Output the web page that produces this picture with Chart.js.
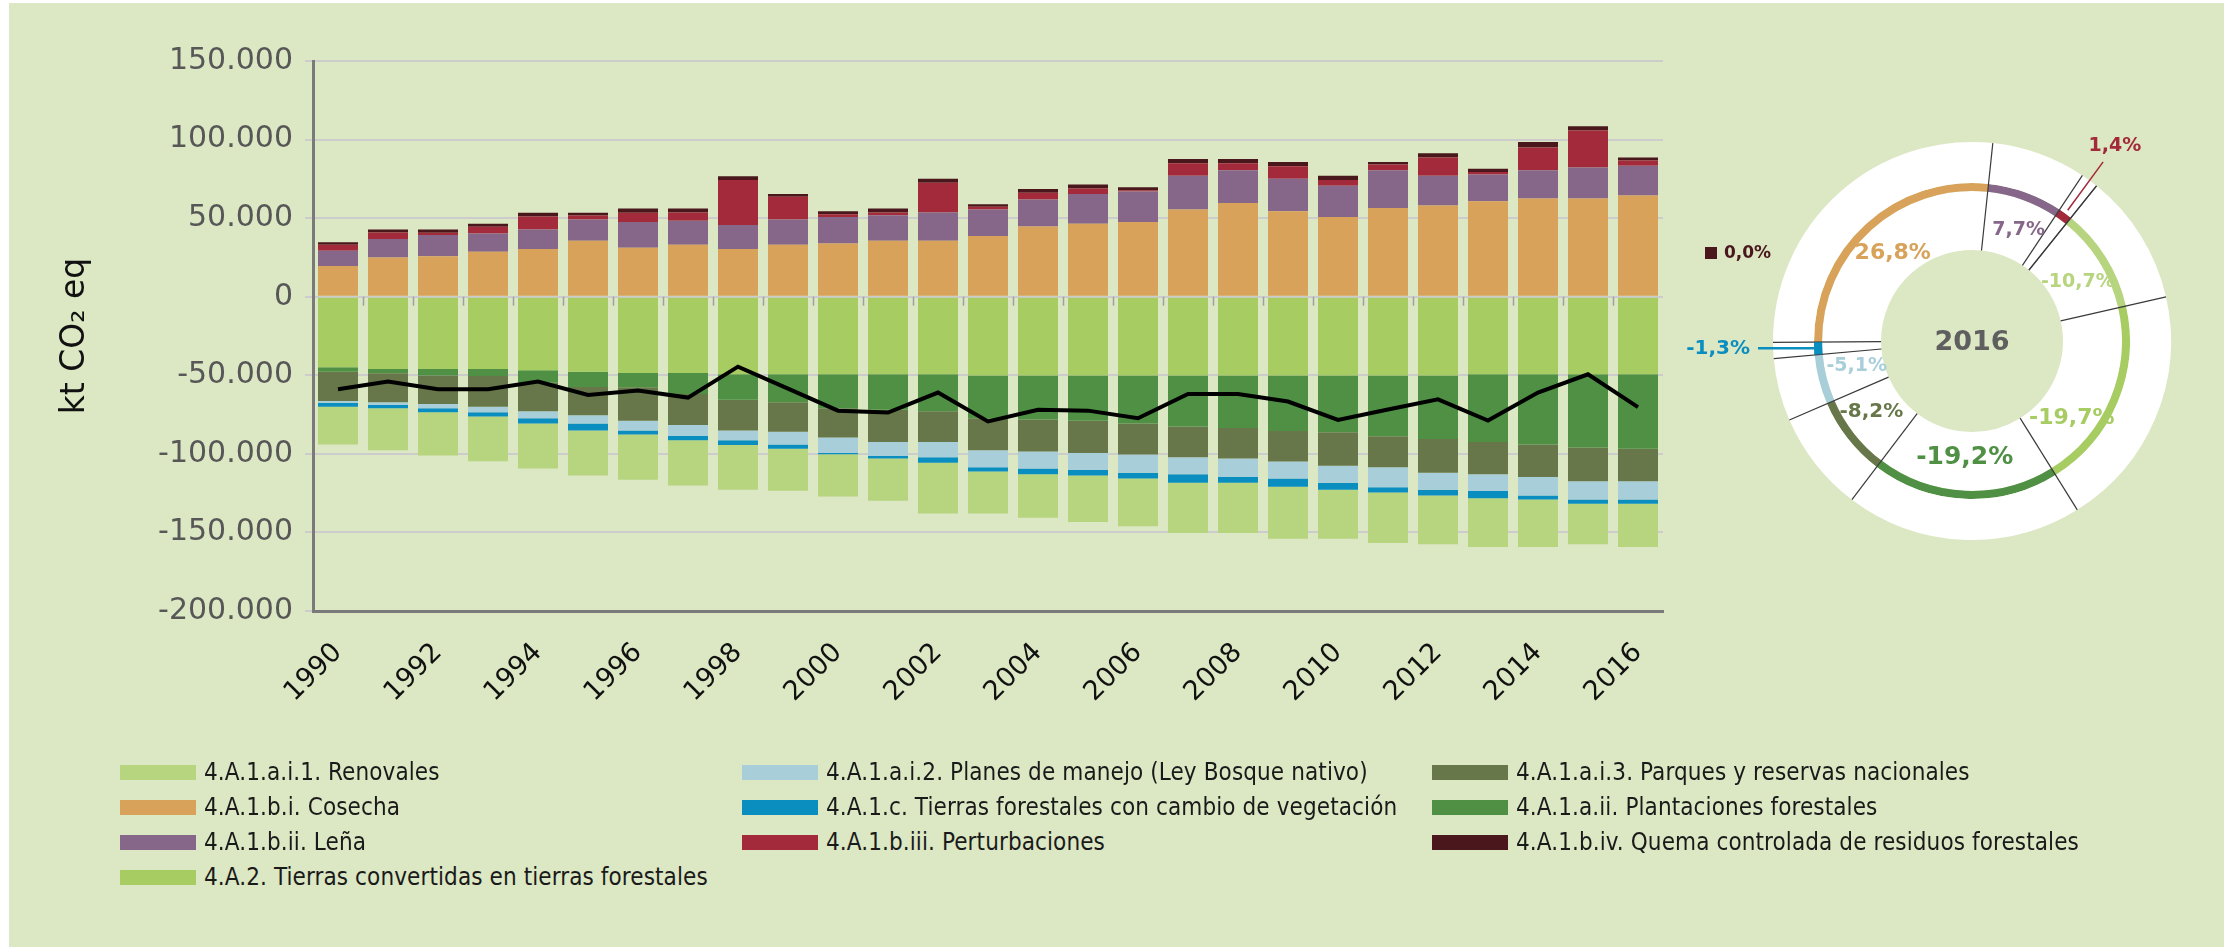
<!DOCTYPE html>
<html>
<head>
<meta charset="utf-8">
<script src="https://cdn.jsdelivr.net/npm/chart.js@4.4.0/dist/chart.umd.min.js"></script>
<style>
  html, body { margin: 0; padding: 0; background: #ffffff; width: 2224px; height: 947px; overflow: hidden; }
  #page { position: absolute; left: 9px; top: 3px; width: 2215px; height: 944px; background: #dce7c3; }
  #barChart { position: absolute; left: 0; top: 0; }
  #donutChart { position: absolute; left: 1652px; top: 111px; }
  .lg { position: absolute; height: 30px; display: flex; align-items: center;
        font-family: "Liberation Sans Narrow", "DejaVu Sans Condensed", "Arial Narrow", sans-serif;
        font-size: 24px; letter-spacing: 0.1px; color: #1a1a1a; white-space: nowrap; }
  .lg span.sw { display: inline-block; width: 76px; height: 15px; margin-right: 8px; }
</style>
</head>
<body>
<div id="page"></div>
<canvas id="barChart" width="1700" height="760"></canvas>
<canvas id="donutChart" width="600" height="460"></canvas>
<div id="legend"></div>
<script>
// Years on the x axis
const years = ['1990','1991','1992','1993','1994','1995','1996','1997','1998','1999',
               '2000','2001','2002','2003','2004','2005','2006','2007','2008','2009',
               '2010','2011','2012','2013','2014','2015','2016'];

// Emissions (kt CO2 eq), positive stack
const cosecha = [19500,25000,25800,28600,30300,35600,31100,33100,30300,33100,
                 33900,35600,35600,38600,44700,46400,47500,55500,59700,54400,
                 50800,56400,58100,60800,62500,62500,64400];
const lena = [9700,11700,13400,11700,12500,13600,16400,15200,15300,16100,
              16900,16300,18000,16900,17200,18900,19400,21400,20800,20600,
              19800,24100,18800,17000,18000,19700,18900];
const perturbaciones = [3800,4200,1500,4200,8300,2500,5900,5300,28600,14400,
                        1700,1700,18900,1700,4200,3600,900,8100,4500,8100,
                        3600,3600,11700,1600,14400,23500,3400];
const quema = [1700,1900,2100,1900,2300,1700,2700,2500,2500,1700,
               1900,2500,2500,1700,2500,2500,1900,2700,2700,2700,
               2700,1700,2700,2000,3600,2800,1900];

// Removals (kt CO2 eq), negative stack
const tierrasConvertidas = [-44900,-46000,-46000,-46000,-46800,-47700,-48500,-48500,-49400,-49400,
                            -49400,-49400,-49400,-50200,-50200,-50200,-50200,-50200,-50200,-50200,
                            -50200,-50200,-50200,-49400,-49400,-49400,-49400];
const plantaciones = [-2800,-2700,-4200,-4400,-7900,-9700,-9100,-13400,-16100,-17800,
                      -21600,-22600,-23500,-27100,-28000,-28800,-30500,-32400,-33300,-35200,
                      -36000,-38600,-40300,-43000,-44700,-46600,-47400];
const parques = [-18600,-18500,-18000,-19700,-18200,-18000,-21400,-19700,-19700,-18800,
                 -18600,-20400,-19500,-20400,-20300,-20400,-19700,-19500,-19500,-19500,
                 -21400,-19700,-21600,-20500,-20700,-21400,-20600];
const planesManejo = [-1100,-1700,-2800,-3400,-4400,-5300,-6200,-7000,-6100,-8100,
                      -9800,-8900,-9700,-10800,-10800,-10800,-11700,-10800,-11800,-10800,
                      -10800,-12700,-10800,-10800,-11700,-11600,-11600];
const cambioVegetacion = [-2700,-2100,-2500,-2800,-3400,-4500,-2500,-2700,-3000,-2700,
                          -800,-1700,-3600,-2700,-3600,-3600,-3600,-5500,-3600,-5300,
                          -4500,-3400,-3600,-4500,-2500,-2800,-2800];
const renovales = [-24000,-26700,-27600,-28400,-28600,-28600,-28800,-28800,-28600,-26700,
                   -26900,-26900,-32200,-26700,-27800,-29600,-30300,-32000,-32000,-33000,
                   -31100,-32200,-31100,-31100,-30300,-25800,-27500];

// Net balance (black line)
const balance = [-58900,-54000,-58900,-58900,-54000,-62500,-59700,-64200,-44500,-58500,
                 -72500,-73700,-61000,-79400,-72000,-72500,-77300,-61900,-61900,-66700,
                 -78400,-71800,-65300,-78800,-61000,-49400,-70300];

// 2016 shares shown in the ring (clockwise from the top)
const donutNames = ['4.A.1.b.ii. Leña','4.A.1.b.iii. Perturbaciones','4.A.1.b.iv. Quema controlada de residuos forestales',
                    '4.A.1.a.i.1. Renovales','4.A.2. Tierras convertidas en tierras forestales','4.A.1.a.ii. Plantaciones forestales',
                    '4.A.1.a.i.3. Parques y reservas nacionales','4.A.1.a.i.2. Planes de manejo (Ley Bosque nativo)',
                    '4.A.1.c. Tierras forestales con cambio de vegetación','4.A.1.b.i. Cosecha'];
const donutPct = [7.7, 1.4, 0.0, -10.7, -19.7, -19.2, -8.2, -5.1, -1.3, 26.8];

const colors = {
    '4.A.1.a.i.1. Renovales': '#b7d47f',
    '4.A.1.b.i. Cosecha': '#d9a25a',
    '4.A.1.b.ii. Leña': '#86678a',
    '4.A.2. Tierras convertidas en tierras forestales': '#a6cc62',
    '4.A.1.a.i.2. Planes de manejo (Ley Bosque nativo)': '#a8cfd9',
    '4.A.1.c. Tierras forestales con cambio de vegetación': '#0a8ec0',
    '4.A.1.b.iii. Perturbaciones': '#a22a3a',
    '4.A.1.a.i.3. Parques y reservas nacionales': '#67774a',
    '4.A.1.a.ii. Plantaciones forestales': '#4f9045',
    '4.A.1.b.iv. Quema controlada de residuos forestales': '#4a181c'
};

function barSet(label, data) {
    return { type: 'bar', label: label, data: data, backgroundColor: colors[label],
             borderWidth: 0, order: 1, categoryPercentage: 0.8, barPercentage: 1.0 };
}

// Small category ticks drawn on the zero line
const zeroTicks = {
    id: 'zeroTicks',
    beforeDatasetsDraw(chart) {
        const { ctx, scales: { x, y } } = chart;
        const y0 = y.getPixelForValue(0);
        const half = (x.getPixelForValue(1) - x.getPixelForValue(0)) / 2;
        ctx.save();
        ctx.strokeStyle = '#a0a0a0';
        ctx.lineWidth = 1.5;
        for (let i = 1; i < years.length; i++) {
            const px = Math.round(x.getPixelForValue(i) - half) + 0.5;
            ctx.beginPath();
            ctx.moveTo(px, y0);
            ctx.lineTo(px, y0 + 9);
            ctx.stroke();
        }
        ctx.restore();
    }
};

function createBarChart() {
    const ctx = document.getElementById('barChart').getContext('2d');
    const padLeft = 56;
    new Chart(ctx, {
        data: {
            labels: years,
            datasets: [
                barSet('4.A.1.b.i. Cosecha', cosecha),
                barSet('4.A.1.b.ii. Leña', lena),
                barSet('4.A.1.b.iii. Perturbaciones', perturbaciones),
                barSet('4.A.1.b.iv. Quema controlada de residuos forestales', quema),
                barSet('4.A.2. Tierras convertidas en tierras forestales', tierrasConvertidas),
                barSet('4.A.1.a.ii. Plantaciones forestales', plantaciones),
                barSet('4.A.1.a.i.3. Parques y reservas nacionales', parques),
                barSet('4.A.1.a.i.2. Planes de manejo (Ley Bosque nativo)', planesManejo),
                barSet('4.A.1.c. Tierras forestales con cambio de vegetación', cambioVegetacion),
                barSet('4.A.1.a.i.1. Renovales', renovales),
                { type: 'line', label: 'Balance', data: balance, borderColor: '#000000',
                  borderWidth: 4, pointRadius: 0, fill: false, tension: 0, order: 0 }
            ]
        },
        options: {
            responsive: false,
            animation: false,
            layout: { padding: { left: padLeft, top: 61, right: 37, bottom: 0 } },
            plugins: { legend: { display: false }, tooltip: { enabled: false } },
            scales: {
                x: {
                    stacked: true,
                    grid: { display: false },
                    border: { display: true, color: '#7a7a7a', width: 3 },
                    ticks: {
                        autoSkip: false, minRotation: 45, maxRotation: 45, padding: 18,
                        color: '#111111',
                        font: { family: 'DejaVu Sans', size: 27 },
                        callback: function(value, index) {
                            return index % 2 === 0 ? years[index] : '';
                        }
                    },
                    afterFit: function(scale) { scale.height = 149; }
                },
                y: {
                    stacked: true,
                    min: -200000, max: 150000,
                    grid: { color: '#cccccc', lineWidth: 2, tickLength: 8 },
                    border: { display: true, color: '#7a7a7a', width: 3 },
                    ticks: {
                        stepSize: 50000, padding: 12, color: '#575757',
                        font: { family: 'DejaVu Sans', size: 30 },
                        callback: function(value) { return value.toLocaleString('de-DE'); }
                    },
                    title: { display: true, text: 'kt CO\u2082 eq', color: '#111111',
                             font: { family: 'DejaVu Sans', size: 33 }, padding: 0 },
                    afterFit: function(scale) { scale.width = 313 - padLeft; }
                }
            }
        },
        plugins: [zeroTicks]
    });
}

// Divider lines and percentage labels of the ring
const ringDecor = {
    id: 'ringDecor',
    afterDatasetsDraw(chart) {
        const { ctx } = chart;
        const arcs = chart.getDatasetMeta(1).data;
        const outerR = chart.getDatasetMeta(0).data[0].outerRadius;
        const innerR = chart.getDatasetMeta(2).data[0].innerRadius;
        const cx = arcs[0].x, cy = arcs[0].y;
        const names = chart.data.labels;
        ctx.save();
        // radial dividers
        ctx.strokeStyle = '#3a3a3a';
        ctx.lineWidth = 1.2;
        arcs.forEach(a => {
            const ang = a.startAngle;
            ctx.beginPath();
            ctx.moveTo(cx + innerR * Math.cos(ang), cy + innerR * Math.sin(ang));
            ctx.lineTo(cx + outerR * Math.cos(ang), cy + outerR * Math.sin(ang));
            ctx.stroke();
        });
        // centre year
        ctx.fillStyle = '#5f5f5f';
        ctx.font = 'bold 27px "DejaVu Sans"';
        ctx.textAlign = 'center';
        ctx.textBaseline = 'middle';
        ctx.fillText('2016', cx, cy + 2);

        const fmt = v => v.toFixed(1).replace('.', ',') + '%';
        const sizes = [19, 19, 17, 19, 22, 25, 20, 19, 20, 22];
        const shift = [3, 0, 0, 3, 15, 1, 3, 2, 0, 0];
        const radius = [120, 0, 0, 121, 126, 117, 123, 118, 0, 118];
        arcs.forEach((a, i) => {
            const col = colors[names[i]];
            const mid = (a.startAngle + a.endAngle) / 2;
            ctx.fillStyle = col;
            ctx.font = 'bold ' + sizes[i] + 'px "DejaVu Sans"';
            const txt = fmt(donutPct[i]);
            if (i === 1) {
                // small slice: leader line outwards
                ctx.strokeStyle = col; ctx.lineWidth = 1.5;
                ctx.beginPath();
                ctx.moveTo(cx + 162 * Math.cos(mid), cy + 162 * Math.sin(mid));
                ctx.lineTo(cx + 222 * Math.cos(mid), cy + 222 * Math.sin(mid));
                ctx.stroke();
                ctx.textAlign = 'center';
                ctx.fillText(txt, cx + 242 * Math.cos(mid), cy + 242 * Math.sin(mid));
            } else if (i === 2) {
                ctx.fillRect(cx - 267, cy - 94, 12, 12);
                ctx.textAlign = 'left';
                ctx.fillText(txt, cx - 248, cy - 87);
            } else if (i === 8) {
                const yy = cy + 154 * Math.sin(mid);
                ctx.strokeStyle = col; ctx.lineWidth = 2.5;
                ctx.beginPath();
                ctx.moveTo(cx + 154 * Math.cos(mid), yy);
                ctx.lineTo(cx - 214, yy);
                ctx.stroke();
                ctx.fillRect(cx + 154 * Math.cos(mid) - 4, yy - 6, 8, 12);
                ctx.textAlign = 'right';
                ctx.fillText(txt, cx - 222, yy);
            } else {
                const ang = mid + shift[i] * Math.PI / 180;
                ctx.textAlign = 'center';
                ctx.fillText(txt, cx + radius[i] * Math.cos(ang), cy + radius[i] * Math.sin(ang));
            }
        });
        ctx.restore();
    }
};

function createDonut() {
    const ctx = document.getElementById('donutChart').getContext('2d');
    const shares = donutPct.map(v => Math.abs(v));
    const white = donutPct.map(() => '#ffffff');
    new Chart(ctx, {
        type: 'doughnut',
        data: {
            labels: donutNames,
            datasets: [
                { data: shares, backgroundColor: white, borderWidth: 0, weight: 41 },
                { data: shares, backgroundColor: donutNames.map(n => colors[n]), borderWidth: 0, weight: 8 },
                { data: shares, backgroundColor: white, borderWidth: 0, weight: 59 }
            ]
        },
        options: {
            responsive: false,
            animation: false,
            rotation: 6,
            cutout: '45.7%',
            layout: { padding: { left: 121, right: 81, top: 31, bottom: 31 } },
            plugins: { legend: { display: false }, tooltip: { enabled: false } }
        },
        plugins: [ringDecor]
    });
}

// Legend laid out in three columns like the original
function createLegend() {
    const cols = [
        { x: 120, items: ['4.A.1.a.i.1. Renovales', '4.A.1.b.i. Cosecha', '4.A.1.b.ii. Leña',
                          '4.A.2. Tierras convertidas en tierras forestales'] },
        { x: 742, items: ['4.A.1.a.i.2. Planes de manejo (Ley Bosque nativo)',
                          '4.A.1.c. Tierras forestales con cambio de vegetación', '4.A.1.b.iii. Perturbaciones'] },
        { x: 1432, items: ['4.A.1.a.i.3. Parques y reservas nacionales', '4.A.1.a.ii. Plantaciones forestales',
                           '4.A.1.b.iv. Quema controlada de residuos forestales'] }
    ];
    const rowsY = [772, 807, 842, 877];
    const box = document.getElementById('legend');
    cols.forEach(c => {
        c.items.forEach((name, r) => {
            const d = document.createElement('div');
            d.className = 'lg';
            d.style.left = c.x + 'px';
            d.style.top = (rowsY[r] - 15) + 'px';
            d.innerHTML = '<span class="sw" style="background:' + colors[name] + '"></span>' + name;
            box.appendChild(d);
        });
    });
}

window.onload = function() {
    createBarChart();
    createDonut();
    createLegend();
};
</script>
</body>
</html>
